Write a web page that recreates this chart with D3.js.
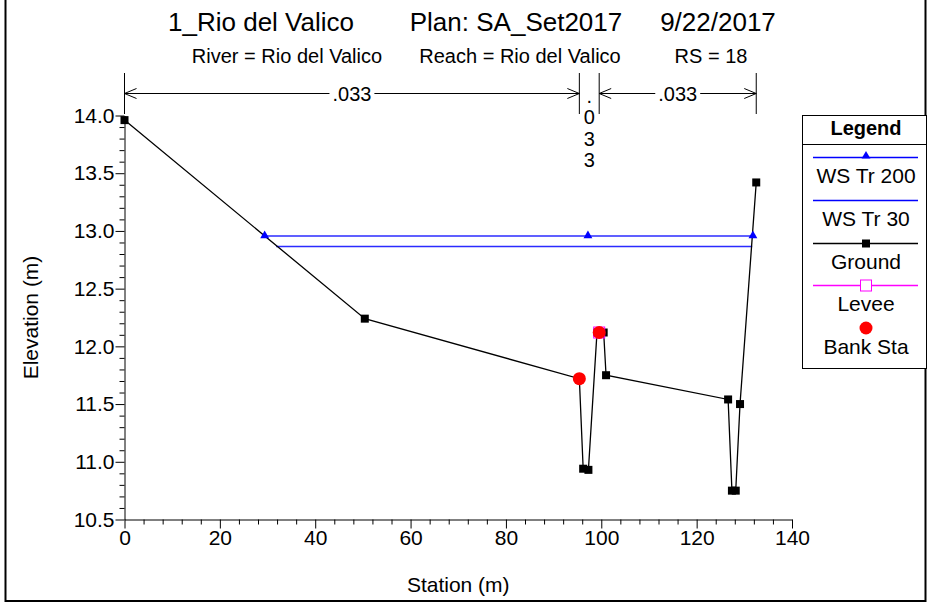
<!doctype html>
<html lang="">
    <head>
        <meta charset="utf-8">
        <title>Cross section RS 18</title>
        <script src="https://d3js.org/d3.v7.min.js"></script>
        <style>
         body { margin: 0; background: #fff; }
         text { font-family: Arial, "Liberation Sans", sans-serif; fill: #000; }
        </style>
    </head>
    <body>
        <div id="main"></div>
    </body>

    <script type="text/javascript">
     // ground profile
     const groundSta  = [0, 50.4, 95.4, 96.2, 97.3, 99.1, 100.5, 101.0, 126.6, 127.4, 128.2, 129.1, 132.5]
     const groundElev = [13.96, 12.24, 11.72, 10.94, 10.93, 12.12, 12.12, 11.75, 11.54, 10.75, 10.75, 11.50, 13.42]

     // water surfaces
     const ws200Sta = [29.4, 131.8]
     const ws200Elev = 12.955
     const ws200Markers = [29.4, 97.2, 131.8]
     const ws30Sta = [31.8, 131.65]
     const ws30Elev = 12.865

     const levee = [[99.56, 12.12]]
     const bankSta = [95.4, 99.56]
     const bankElev = [11.72, 12.12]

     // manning n
     const nBreaks = [0, 95.4, 99.56, 132.5]
     const nValues = ['.033', '.033', '.033']

     const xTicks = [0, 20, 40, 60, 80, 100, 120, 140]
     const yTicks = [10.5, 11.0, 11.5, 12.0, 12.5, 13.0, 13.5, 14.0]

     const titleParts = ['1_Rio del Valico', 'Plan: SA_Set2017', '9/22/2017']
     const subParts = ['River = Rio del Valico', 'Reach = Rio del Valico', 'RS = 18']
     const legendItems = ['WS Tr 200', 'WS Tr 30', 'Ground', 'Levee', 'Bank Sta']

     const W = 928, H = 604
     const svg = d3.select('#main').append('svg')
                   .attr('width', W).attr('height', H)

     // outer frame
     svg.append('path')
        .attr('d', `M5.5,0 V601 H925.5 V0`)
        .attr('fill', 'none').attr('stroke', '#000').attr('stroke-width', 2)

     const x = d3.scaleLinear().domain([0, 140]).range([124.5, 792])
     const y = d3.scaleLinear().domain([10.5, 14]).range([519.5, 115.5])

     // titles
     const titleX = [261, 516, 718]
     svg.selectAll('.title').data(titleParts).enter().append('text')
        .attr('x', (d, i) => titleX[i]).attr('y', 31)
        .attr('text-anchor', 'middle').style('font-size', '26px').text(d => d)
     const subX = [287, 520, 711]
     svg.selectAll('.sub').data(subParts).enter().append('text')
        .attr('x', (d, i) => subX[i]).attr('y', 63)
        .attr('text-anchor', 'middle').style('font-size', '20px').text(d => d)

     // axes
     const xMinor = d3.range(0, 141, 4).filter(v => v % 20 !== 0)
     const yMinor = d3.range(105, 141, 1).map(v => v / 10).filter(v => Math.round(v * 10) % 5 !== 0)

     const gx = svg.append('g').attr('transform', `translate(0,${y(10.5)})`)
     gx.call(d3.axisBottom(x).tickValues(xMinor).tickSize(5).tickFormat('').tickSizeOuter(0))
     gx.call(g => g.selectAll('.domain').remove())
     const gx2 = svg.append('g').attr('transform', `translate(0,${y(10.5)})`)
     gx2.call(d3.axisBottom(x).tickValues(xTicks).tickSize(9).tickSizeOuter(0).tickPadding(2))
     gx2.selectAll('text').style('font-size', '21px').attr('fill', '#000')

     const gy = svg.append('g').attr('transform', `translate(${x(0)},0)`)
     gy.call(d3.axisLeft(y).tickValues(yMinor).tickSize(5).tickFormat('').tickSizeOuter(0))
     gy.call(g => g.selectAll('.domain').remove())
     const gy2 = svg.append('g').attr('transform', `translate(${x(0)},0)`)
     gy2.call(d3.axisLeft(y).tickValues(yTicks).tickSize(9).tickSizeOuter(0).tickPadding(1).tickFormat(d3.format('.1f')))
     gy2.selectAll('text').style('font-size', '21px').attr('fill', '#000')
     svg.selectAll('.domain, .tick line').attr('stroke', '#000')

     svg.append('text').attr('x', (x(0) + x(140)) / 2).attr('y', 592)
        .attr('text-anchor', 'middle').style('font-size', '21px').text('Station (m)')
     svg.append('text').attr('transform', `translate(38,${(y(10.5) + y(14)) / 2}) rotate(-90)`)
        .attr('text-anchor', 'middle').style('font-size', '21px').text('Elevation (m)')

     // manning n annotation
     const nTop = 73, nBot = 114, nY = 93.5
     svg.selectAll('.nbreak').data(nBreaks).enter().append('line')
        .attr('x1', d => x(d)).attr('x2', d => x(d))
        .attr('y1', nTop).attr('y2', nBot).attr('stroke', '#000').attr('stroke-width', 1)
     const segs = nValues.map((v, i) => ({ a: nBreaks[i], b: nBreaks[i + 1], v }))
     segs.forEach(s => {
         const xa = x(s.a), xb = x(s.b)
         const g = svg.append('g')
         if (xb - xa > 60) {
             g.append('line').attr('x1', xa).attr('x2', xb).attr('y1', nY).attr('y2', nY)
              .attr('stroke', '#000')
             g.append('path').attr('d', `M${xa + 12},${nY - 5} L${xa},${nY} L${xa + 12},${nY + 5}`)
              .attr('fill', 'none').attr('stroke', '#000')
             g.append('path').attr('d', `M${xb - 12},${nY - 5} L${xb},${nY} L${xb - 12},${nY + 5}`)
              .attr('fill', 'none').attr('stroke', '#000')
             const t = g.append('text').attr('x', (xa + xb) / 2).attr('y', nY + 7)
                        .attr('text-anchor', 'middle').style('font-size', '20px').text(s.v)
             const bb = t.node().getBBox()
             g.insert('rect', 'text').attr('x', bb.x - 3).attr('y', nY - 2)
              .attr('width', bb.width + 6).attr('height', 4).attr('fill', '#fff')
         } else {
             g.selectAll('text').data(s.v.split('')).enter().append('text')
              .attr('x', (xa + xb) / 2).attr('y', (d, i) => 102.5 + i * 21.6)
              .attr('text-anchor', 'middle').style('font-size', '20px').text(d => d)
         }
     })

     // water surfaces
     svg.append('line').attr('x1', x(ws200Sta[0])).attr('x2', x(ws200Sta[1]))
        .attr('y1', y(ws200Elev)).attr('y2', y(ws200Elev))
        .attr('stroke', '#2b2bff').attr('stroke-width', 1.5)
     svg.append('line').attr('x1', x(ws30Sta[0])).attr('x2', x(ws30Sta[1]))
        .attr('y1', y(ws30Elev)).attr('y2', y(ws30Elev))
        .attr('stroke', '#2b2bff').attr('stroke-width', 1.5)

     // ground
     const ground = groundSta.map((s, i) => [s, groundElev[i]])
     svg.append('path').datum(ground)
        .attr('d', d3.line().x(d => x(d[0])).y(d => y(d[1])))
        .attr('fill', 'none').attr('stroke', '#000').attr('stroke-width', 1.3)
     svg.selectAll('.gpt').data(ground).enter().append('rect')
        .attr('x', d => x(d[0]) - 4).attr('y', d => y(d[1]) - 4)
        .attr('width', 8).attr('height', 8).attr('fill', '#000')

     const tri = d3.symbol().type(d3.symbolTriangle).size(34)
     svg.selectAll('.tri').data(ws200Markers).enter().append('path')
        .attr('d', tri).attr('fill', '#0000ff')
        .attr('transform', d => `translate(${x(d)},${y(ws200Elev) - 0.5})`)

     svg.selectAll('.lev').data(levee).enter().append('rect')
        .attr('x', d => x(d[0]) - 5.5).attr('y', d => y(d[1]) - 5.5)
        .attr('width', 11).attr('height', 11).attr('fill', 'none').attr('stroke', '#ff00ff')

     svg.selectAll('.bank').data(bankSta).enter().append('circle')
        .attr('cx', d => x(d)).attr('cy', (d, i) => y(bankElev[i]))
        .attr('r', 6.5).attr('fill', '#ff0000')

     // legend
     const lg = svg.append('g')
     lg.append('rect').attr('x', 802.5).attr('y', 115.5).attr('width', 124).attr('height', 253)
       .attr('fill', '#fff').attr('stroke', '#000')
     lg.append('line').attr('x1', 802.5).attr('x2', 926.5).attr('y1', 144.5).attr('y2', 144.5).attr('stroke', '#000')
     lg.append('text').attr('x', 866).attr('y', 135).attr('text-anchor', 'middle')
       .style('font-size', '20px').style('font-weight', 'bold').text('Legend')
     const lineY = [157, 200, 243, 285, 328]
     const textY = [183, 226, 268.5, 311, 354]
     lg.selectAll('.lt').data(legendItems).enter().append('text')
       .attr('x', 866).attr('y', (d, i) => textY[i]).attr('text-anchor', 'middle')
       .style('font-size', '21px').text(d => d)
     const lineCol = ['#0000ff', '#0000ff', '#000', '#ff00ff']
     lg.selectAll('.ll').data(lineCol).enter().append('line')
       .attr('x1', 813).attr('x2', 918).attr('y1', (d, i) => lineY[i] + 0.5).attr('y2', (d, i) => lineY[i] + 0.5)
       .attr('stroke', d => d).attr('stroke-width', 1.3)
     lg.append('path').attr('d', tri).attr('fill', '#0000ff').attr('transform', `translate(866,${lineY[0] - 1})`)
     lg.append('rect').attr('x', 862).attr('y', lineY[2] - 3.5).attr('width', 8).attr('height', 8).attr('fill', '#000')
     lg.append('rect').attr('x', 860.5).attr('y', lineY[3] - 5).attr('width', 11).attr('height', 11)
       .attr('fill', '#fff').attr('stroke', '#ff00ff')
     lg.append('circle').attr('cx', 866).attr('cy', lineY[4]).attr('r', 6.5).attr('fill', '#ff0000')
    </script>
</html>
